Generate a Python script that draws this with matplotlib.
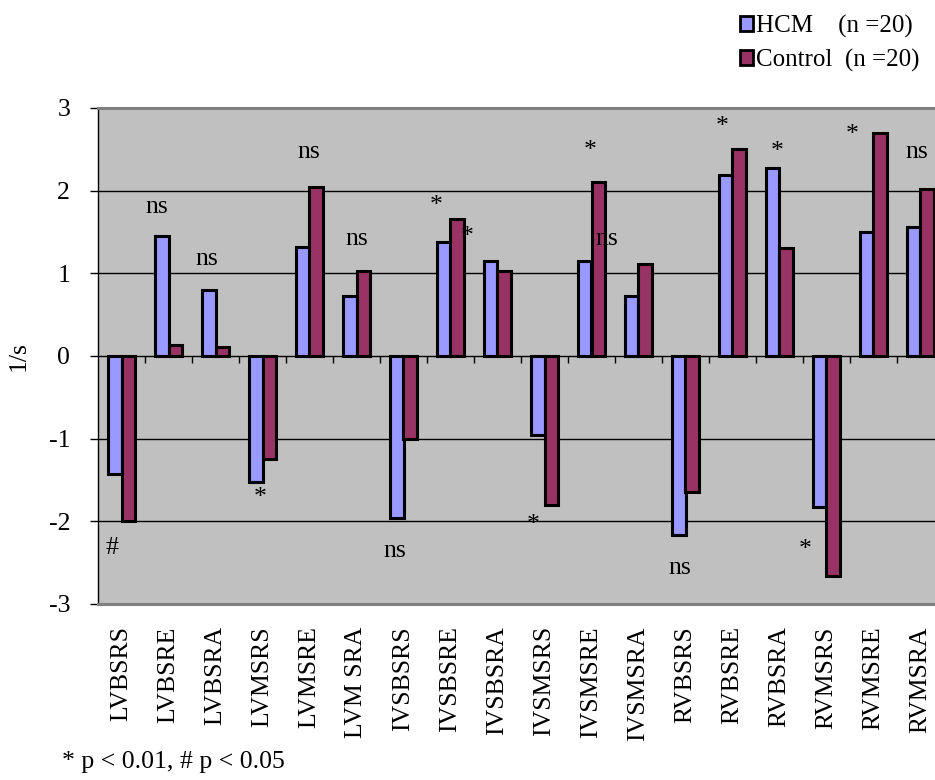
import numpy as np
import matplotlib
matplotlib.use("Agg")
import matplotlib.pyplot as plt
from matplotlib.patches import Patch

plt.rcParams['font.family'] = ['Liberation Serif', 'DejaVu Serif']
plt.rcParams['axes.unicode_minus'] = False

# data
categories = ['LVBSRS', 'LVBSRE', 'LVBSRA', 'LVMSRS', 'LVMSRE', 'LVM SRA',
              'IVSBSRS', 'IVSBSRE', 'IVSBSRA', 'IVSMSRS', 'IVSMSRE', 'IVSMSRA',
              'RVBSRS', 'RVBSRE', 'RVBSRA', 'RVMSRS', 'RVMSRE', 'RVMSRA']
hcm = [-1.43, 1.45, 0.80, -1.53, 1.32, 0.72,
       -1.96, 1.38, 1.15, -0.95, 1.15, 0.73,
       -2.16, 2.19, 2.28, -1.83, 1.50, 1.56]
control = [-1.99, 0.13, 0.11, -1.24, 2.04, 1.03,
           -1.01, 1.66, 1.03, -1.80, 2.10, 1.11,
           -1.65, 2.51, 1.31, -2.66, 2.70, 2.02]

# significance marks (text, x in category units, y in 1/s)
sig_text = ['#', 'ns', 'ns', '*', 'ns', 'ns', 'ns', '*', '*', '*',
            '*', 'ns', 'ns', '*', '*', '*', '*', 'ns']
sig_x = [-0.20, 0.75, 1.82, 2.95, 3.99, 5.01, 5.82, 6.69, 7.35, 8.76,
         9.97, 10.33, 11.88, 12.79, 13.95, 14.55, 15.55, 16.93]
sig_y = [-2.32, 1.80, 1.17, -1.66, 2.47, 1.42, -2.36, 1.87, 1.50, -1.98,
         2.54, 1.42, -2.56, 2.83, 2.53, -2.29, 2.73, 2.47]

c_hcm = '#9999FF'
c_ctrl = '#993366'
fs = 18.5

fig = plt.figure(figsize=(9.35, 7.8), dpi=100)
ax = fig.add_axes([98/935, 176/780, 846/935, 496/780])
ax.set_facecolor('#C0C0C0')

x = np.arange(len(categories))
w = 0.29
ax.bar(x - w/2, hcm, w, color=c_hcm, edgecolor='black', linewidth=2.2, zorder=3)
ax.bar(x + w/2, control, w, color=c_ctrl, edgecolor='black', linewidth=2.2, zorder=3)

ax.set_xlim(-0.5, len(categories) - 0.5)
ax.set_ylim(-3, 3)
ax.set_yticks(range(-3, 4))
for yv in range(-2, 3):
    ax.axhline(yv, color='black', lw=1.0, zorder=1)
# category separators on the zero line
ax.vlines(x[1:] - 0.5, -0.09, 0, color='black', lw=1.0, zorder=2)

ax.set_xticks(x)
ax.set_xticklabels(categories, rotation=90, fontsize=fs)
ax.tick_params(axis='x', length=0, pad=16)
ax.tick_params(axis='y', labelsize=fs, length=6, width=1, direction='out', pad=14)

for side in ['top', 'bottom', 'right']:
    ax.spines[side].set_color('#808080')
    ax.spines[side].set_linewidth(2.2)
ax.spines['left'].set_color('black')
ax.spines['left'].set_linewidth(1)

ax.set_ylabel('1/s', fontsize=fs, labelpad=14)

for t, xx, yy in zip(sig_text, sig_x, sig_y):
    # '*' sits high in its text box, so nudge it down to the measured glyph spot
    dy = -0.06 if t == '*' else 0
    ax.text(xx, yy + dy, t, ha='center', va='center', fontsize=fs, zorder=4)

handles = [Patch(facecolor=c_hcm, edgecolor='black', linewidth=2),
           Patch(facecolor=c_ctrl, edgecolor='black', linewidth=2)]
fig.legend(handles, ['HCM    (n =20)', 'Control  (n =20)'], loc='upper right',
           bbox_to_anchor=(1.008, 1.01), frameon=False, fontsize=18,
           handlelength=0.55, handleheight=0.55, handletextpad=0.12, labelspacing=0.45)

fig.text(62/935, 1 - 762/780, '* p < 0.01, # p < 0.05', fontsize=fs, va='center')

fig.savefig('out.png', dpi=100)
